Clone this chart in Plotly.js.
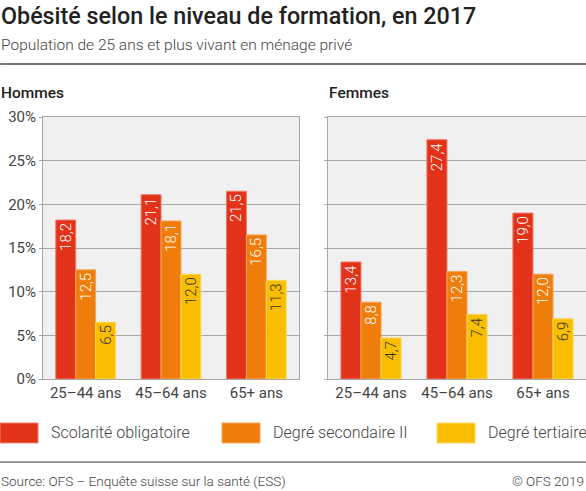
<!DOCTYPE html>
<html>
<head>
<meta charset="utf-8">
<script src="https://cdn.plot.ly/plotly-3.0.1.min.js"></script>
<style>
  body { margin: 0; background: #fff; }
  #chart { width: 586px; height: 491px; }
</style>
</head>
<body>
<div id="chart"></div>
<script>
// data
let ageGroups = ['25–44 ans', '45–64 ans', '65+ ans']
let seriesNames = ['Scolarité obligatoire', 'Degré secondaire II', 'Degré tertiaire']
let hommesObligatoire = [18.2, 21.1, 21.5]
let hommesSecondaire = [12.5, 18.1, 16.5]
let hommesTertiaire = [6.5, 12.0, 11.3]
let femmesObligatoire = [13.4, 27.4, 19.0]
let femmesSecondaire = [8.8, 12.3, 12.0]
let femmesTertiaire = [4.7, 7.4, 6.9]
let yTicks = [0, 5, 10, 15, 20, 25, 30]

let colors = ['#e3321a', '#ef7d0b', '#fabe00']
let outlines = ['#f07a66', '#f6a55a', '#fcd860']
let textColors = ['#ffffff', '#ffffff', '#333333']

main()

function main() {
    let hommes = [hommesObligatoire, hommesSecondaire, hommesTertiaire]
    let femmes = [femmesObligatoire, femmesSecondaire, femmesTertiaire]
    let traces = []
    for (let i = 0; i < 3; i++) {
        traces.push(barTrace(hommes[i], i, 'x', 'y'))
        traces.push(barTrace(femmes[i], i, 'x2', 'y2'))
    }

    let yaxis = {
        range: [0, 30],
        tickvals: yTicks,
        ticktext: yTicks.map(v => v + '%'),
        showgrid: true,
        gridcolor: '#a8a8a8',
        gridwidth: 1,
        showline: true,
        linecolor: '#a8a8a8',
        mirror: true,
        ticks: 'outside',
        ticklen: 3,
        tickcolor: '#a8a8a8',
        zeroline: false,
        fixedrange: true,
        tickfont: {family: 'Roboto', size: 15, color: '#444'}
    }
    let xaxis = {
        showline: true,
        linecolor: '#a8a8a8',
        mirror: true,
        ticks: '',
        fixedrange: true,
        tickfont: {family: 'Roboto', size: 15, color: '#444'}
    }

    // legend drawn by hand so the swatches can be large like the original
    let shapes = [
        {type: 'line', xref: 'paper', yref: 'paper', x0: -0.079, x1: 1, y0: 1.202, y1: 1.202,
         line: {color: '#777', width: 2}},
        {type: 'line', xref: 'paper', yref: 'paper', x0: -0.079, x1: 1, y0: -0.317, y1: -0.317,
         line: {color: '#333', width: 1}}
    ]
    let annotations = [
        {text: 'Obésité selon le niveau de formation, en 2017', xref: 'paper', yref: 'paper',
         x: -0.081, y: 1.445, xanchor: 'left', yanchor: 'top', showarrow: false,
         font: {family: 'Roboto', size: 23.3, color: '#222', weight: 500}},
        {text: 'Population de 25 ans et plus vivant en ménage privé', xref: 'paper', yref: 'paper',
         x: -0.081, y: 1.315, xanchor: 'left', yanchor: 'top', showarrow: false,
         font: {family: 'Roboto', size: 15.5, color: '#444', weight: 300}},
        {text: 'Hommes', xref: 'paper', yref: 'paper', x: -0.081, y: 1.132,
         xanchor: 'left', yanchor: 'top', showarrow: false,
         font: {family: 'Roboto', size: 15.5, color: '#222', weight: 500}},
        {text: 'Femmes', xref: 'paper', yref: 'paper', x: 0.523, y: 1.132,
         xanchor: 'left', yanchor: 'top', showarrow: false,
         font: {family: 'Roboto', size: 15.5, color: '#222', weight: 500}},
        {text: 'Source: OFS – Enquête suisse sur la santé (ESS)', xref: 'paper', yref: 'paper',
         x: -0.081, y: -0.389, xanchor: 'left', yanchor: 'middle', showarrow: false,
         font: {family: 'Roboto', size: 13.5, color: '#444', weight: 300}},
        {text: '© OFS 2019', xref: 'paper', yref: 'paper',
         x: 1, y: -0.389, xanchor: 'right', yanchor: 'middle', showarrow: false,
         font: {family: 'Roboto', size: 13.5, color: '#444', weight: 300}}
    ]
    let legendX = [-0.0792, 0.3297, 0.7256]
    for (let i = 0; i < 3; i++) {
        shapes.push({type: 'rect', xref: 'paper', yref: 'paper',
            x0: legendX[i], x1: legendX[i] + 0.07, y0: -0.244, y1: -0.168,
            fillcolor: colors[i], line: {color: outlines[i], width: 1}})
        annotations.push({text: seriesNames[i], xref: 'paper', yref: 'paper',
            x: legendX[i] + 0.09, y: -0.206, xanchor: 'left', yanchor: 'middle', showarrow: false,
            font: {family: 'Roboto', size: 16, color: '#444', weight: 300}})
    }

    let layout = {
        width: 586,
        height: 491,
        margin: {l: 43, r: 0, t: 117, b: 112},
        paper_bgcolor: '#fff',
        plot_bgcolor: '#f0f0f0',
        separators: ', ',
        barmode: 'group',
        bargap: 0.3,
        bargroupgap: 0,
        showlegend: false,
        xaxis: Object.assign({domain: [0, 0.4715], anchor: 'y'}, xaxis),
        xaxis2: Object.assign({domain: [0.5249, 1], anchor: 'y2'}, xaxis),
        yaxis: Object.assign({anchor: 'x'}, yaxis),
        yaxis2: Object.assign({anchor: 'x2', showticklabels: false}, yaxis),
        shapes: shapes,
        annotations: annotations
    }
    Plotly.newPlot('chart', traces, layout, {displayModeBar: false, staticPlot: true})
}

function barTrace(values, i, xa, ya) {
    return {
        type: 'bar',
        x: ageGroups,
        y: values,
        name: seriesNames[i],
        xaxis: xa,
        yaxis: ya,
        marker: {color: colors[i], line: {color: outlines[i], width: 1}},
        texttemplate: '%{y:.1f}',
        textposition: 'inside',
        insidetextanchor: 'end',
        textangle: -90,
        constraintext: 'none',
        textfont: {family: 'Roboto', size: 15, color: textColors[i], weight: 300},
        cliponaxis: false
    }
}
</script>
</body>
</html>
